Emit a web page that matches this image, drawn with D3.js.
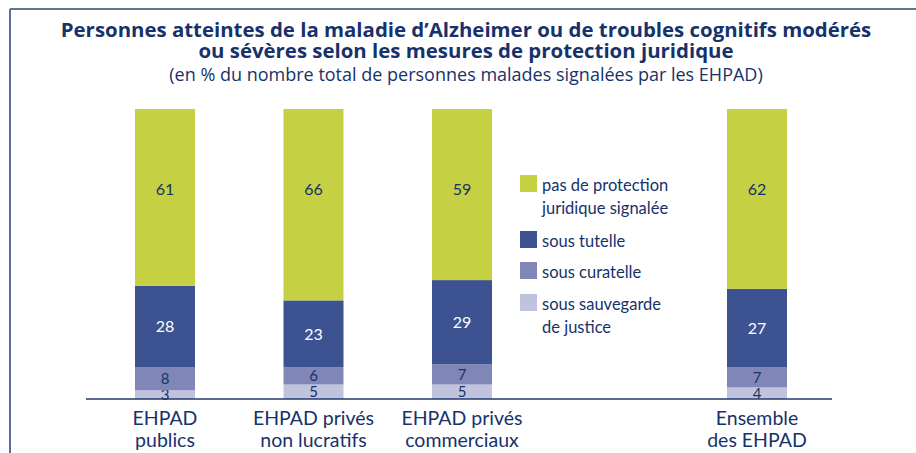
<!DOCTYPE html>
<html>
<head>
<meta charset="utf-8">
<script src="https://cdn.jsdelivr.net/npm/d3@7"></script>
<style>
	body { margin: 0; background: #fff; }
	svg text { font-family: Lato, "Open Sans", sans-serif; fill: #17326a; }
	.title { font-family: "Open Sans", sans-serif; font-weight: 700; font-size: 20.4px; }
	.subtitle { font-family: "Open Sans", sans-serif; font-size: 18px; }
	.cat-label { font-size: 19.5px; }
	.val-label { font-size: 16px; }
	.legend text { font-size: 16.5px; }
</style>
</head>
<body>
<div id="chart"></div>
<script>
const categories = [
	['EHPAD', 'publics'],
	['EHPAD privés', 'non lucratifs'],
	['EHPAD privés', 'commerciaux'],
	['Ensemble', 'des EHPAD'],
];
const seriesNames = ['sauvegarde', 'curatelle', 'tutelle', 'aucune'];
const sauvegarde = [3, 5, 5, 4];
const curatelle = [8, 6, 7, 7];
const tutelle = [28, 23, 29, 27];
const aucune = [61, 66, 59, 62];
const legendLabels = [
	['pas de protection', 'juridique signalée'],
	['sous tutelle'],
	['sous curatelle'],
	['sous sauvegarde', 'de justice'],
];
const colors = ['#c0c3de', '#8087b8', '#3d5290', '#c5d142'];

const width = 916;
const height = 453;

const svg = d3.select('#chart').append('svg')
	.attr('width', width)
	.attr('height', height);

// frame
svg.append('line')
	.attr('x1', 10).attr('x2', width).attr('y1', 9).attr('y2', 9)
	.attr('stroke', '#2f4474').attr('stroke-width', 1.5);
svg.append('line')
	.attr('x1', 10).attr('x2', 10).attr('y1', 9).attr('y2', height)
	.attr('stroke', '#5b6f98').attr('stroke-width', 2);

// titles
svg.append('text').attr('class', 'title')
	.attr('x', 466).attr('y', 37).attr('text-anchor', 'middle')
	.text('Personnes atteintes de la maladie d\u2019Alzheimer ou de troubles cognitifs modérés');
svg.append('text').attr('class', 'title')
	.attr('x', 466).attr('y', 58).attr('text-anchor', 'middle')
	.text('ou sévères selon les mesures de protection juridique');
svg.append('text').attr('class', 'subtitle')
	.attr('x', 466).attr('y', 81).attr('text-anchor', 'middle')
	.text('(en % du nombre total de personnes malades signalées par les EHPAD)');

// stacked data
const data = categories.map((c, i) => ({
	idx: i,
	sauvegarde: sauvegarde[i],
	curatelle: curatelle[i],
	tutelle: tutelle[i],
	aucune: aucune[i],
}));
const stack = d3.stack().keys(seriesNames)(data);

// bar centres are not evenly spaced (gap before "Ensemble")
const x = d3.scaleLinear().domain([0, 2]).range([165, 462]);
const xPos = i => (i === 3 ? 757 : x(i));
const barW = 60;
const y = d3.scaleLinear().domain([0, 100]).range([399, 109]);

const layers = svg.selectAll('.layer')
	.data(stack)
	.enter().append('g')
		.attr('class', 'layer')
		.attr('fill', (d, i) => colors[i]);

layers.selectAll('rect')
	.data(d => d)
	.enter().append('rect')
		.attr('x', d => xPos(d.data.idx) - barW / 2)
		.attr('width', barW)
		.attr('y', d => y(d[1]))
		.attr('height', d => y(d[0]) - y(d[1]));

// value labels
layers.each(function addLabels(layer, li) {
	d3.select(this).selectAll('text')
		.data(layer)
		.enter().append('text')
			.attr('class', 'val-label')
			.attr('x', d => xPos(d.data.idx))
			.attr('y', d => (li === 3 ? y(d[1]) + 80 : (y(d[0]) + y(d[1])) / 2))
			.attr('dy', '.36em')
			.attr('text-anchor', 'middle')
			.style('fill', li === 2 ? '#fff' : '#17326a')
			.style('font-size', li < 2 ? '15px' : null)
			.text(d => d[1] - d[0]);
});

// baseline
svg.append('line')
	.attr('x1', 86).attr('x2', 832).attr('y1', y(0)).attr('y2', y(0))
	.attr('stroke', '#24396e').attr('stroke-width', 1.5);

// category labels
const catG = svg.selectAll('.cat-label')
	.data(categories)
	.enter().append('text')
		.attr('class', 'cat-label')
		.attr('text-anchor', 'middle');
catG.selectAll('tspan')
	.data((d, i) => d.map(t => ({ t, i })))
	.enter().append('tspan')
		.attr('x', d => xPos(d.i))
		.attr('y', (d, j) => 425 + j * 22)
		.text(d => d.t);

// legend
const legendY = [175, 231, 262, 294];
const legend = svg.append('g').attr('class', 'legend');
const items = legend.selectAll('g')
	.data(legendLabels)
	.enter().append('g')
		.attr('transform', (d, i) => `translate(520, ${legendY[i]})`);
items.append('rect')
	.attr('width', 17).attr('height', 17)
	.attr('fill', (d, i) => colors[3 - i]);
items.append('text')
	.selectAll('tspan')
	.data(d => d)
	.enter().append('tspan')
		.attr('x', 22)
		.attr('y', (d, j) => 16 + j * 23)
		.text(d => d);
</script>
</body>
</html>
